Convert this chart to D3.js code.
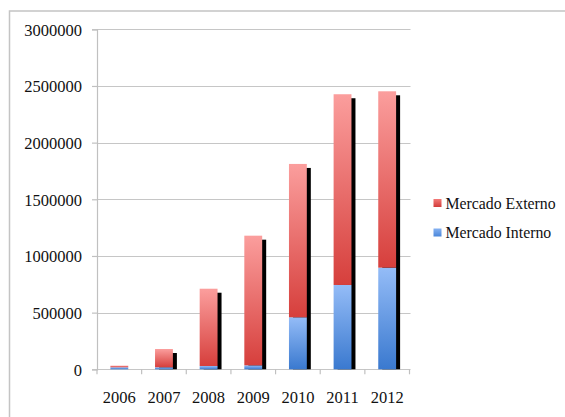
<!DOCTYPE html>
<html>
<head>
<meta charset="utf-8">
<script src="https://cdn.jsdelivr.net/npm/d3@7"></script>
<style>
  html, body { margin: 0; padding: 0; background: #fff; }
  svg { display: block; }
  text { font-family: "Liberation Serif", "Times New Roman", serif; fill: #111; }
</style>
</head>
<body>
<svg id="chart" width="565" height="417"></svg>
<script>
// Annual sales by market
const years = ["2006", "2007", "2008", "2009", "2010", "2011", "2012"];
const mercadoInterno = [18000, 18000, 29000, 35000, 459000, 744000, 897000];
const mercadoExterno = [14000, 161000, 682000, 1144000, 1353000, 1683000, 1556000];
const yTicks = [0, 500000, 1000000, 1500000, 2000000, 2500000, 3000000];
const seriesNames = ["Mercado Interno", "Mercado Externo"];

const svg = d3.select("#chart");
const plot = { left: 97, right: 409.5, top: 29.3, bottom: 369.3 };

// outer frame
svg.append("rect")
  .attr("x", 9.5).attr("y", 11).attr("width", 600).attr("height", 450)
  .attr("fill", "none").attr("stroke", "#c4c4c4").attr("stroke-width", 1.5);

const x = d3.scaleBand().domain(years).range([plot.left, plot.right]).paddingInner(0).paddingOuter(0);
const y = d3.scaleLinear().domain([0, 3000000]).range([plot.bottom, plot.top]);

// gradients
const defs = svg.append("defs");
function grad(id, top, bottom) {
  const g = defs.append("linearGradient").attr("id", id)
    .attr("x1", 0).attr("y1", 0).attr("x2", 0).attr("y2", 1);
  g.append("stop").attr("offset", "0%").attr("stop-color", top);
  g.append("stop").attr("offset", "100%").attr("stop-color", bottom);
}
grad("gRed", "#fb9e9d", "#d63f3c");
grad("gBlue", "#94bcf7", "#3a79cf");
grad("gRedLeg", "#f37a78", "#d23c3a");
grad("gBlueLeg", "#86b2f2", "#4b87da");

// gridlines
svg.append("g").selectAll("line").data(yTicks).join("line")
  .attr("x1", plot.left).attr("x2", plot.right + 1)
  .attr("y1", d => Math.round(y(d)) + 0.5).attr("y2", d => Math.round(y(d)) + 0.5)
  .attr("stroke", "#c6c6c6").attr("stroke-width", 1.2);

// y axis
const yAxis = svg.append("g").attr("transform", `translate(${plot.left},0)`)
  .call(d3.axisLeft(y).tickValues(yTicks).tickFormat(d3.format("d")).tickSize(5).tickPadding(10));
yAxis.select(".domain").attr("stroke", "#c0c0c0").attr("stroke-width", 1.2);
yAxis.selectAll(".tick line").attr("stroke", "#c0c0c0").attr("stroke-width", 1.2);
yAxis.selectAll(".tick text").attr("font-size", 16.5).attr("font-family", "Liberation Serif").attr("fill", "#111").attr("dy", "0.36em");

// x axis ticks at band boundaries
const xAxisG = svg.append("g");
const boundaries = years.map(d => x(d)).concat([plot.right]);
xAxisG.selectAll("line").data(boundaries).join("line")
  .attr("x1", d => d).attr("x2", d => d)
  .attr("y1", plot.bottom).attr("y2", plot.bottom + 5)
  .attr("stroke", "#c0c0c0").attr("stroke-width", 1.2);
xAxisG.selectAll("text").data(years).join("text")
  .attr("x", d => x(d) + x.bandwidth() / 2)
  .attr("y", 402.5)
  .attr("text-anchor", "middle")
  .attr("font-size", 16.5)
  .text(d => d);

// stacked bars
const rows = years.map((yr, i) => ({ year: yr, interno: mercadoInterno[i], externo: mercadoExterno[i] }));
const stack = d3.stack().keys(["interno", "externo"])(rows);
const barW = x.bandwidth() * 0.4;
const barX = d => x(d.data.year) + (x.bandwidth() - barW) / 2;

// drop shadows behind each stacked column
const totals = rows.map(r => r.interno + r.externo);
svg.append("g").selectAll("rect").data(rows).join("rect")
  .attr("x", d => x(d.year) + (x.bandwidth() - barW) / 2 + 4)
  .attr("y", (d, i) => y(totals[i]) + 4)
  .attr("width", barW)
  .attr("height", (d, i) => Math.max(0, plot.bottom - y(totals[i]) - 4))
  .attr("fill", "#000");

const fills = ["url(#gBlue)", "url(#gRed)"];
stack.forEach((layer, k) => {
  svg.append("g").selectAll("rect").data(layer).join("rect")
    .attr("x", barX)
    .attr("y", d => y(d[1]))
    .attr("width", barW)
    .attr("height", d => y(d[0]) - y(d[1]))
    .attr("fill", fills[k]);
});

// legend
const legend = [
  { name: seriesNames[1], fill: "url(#gRedLeg)", y: 199 },
  { name: seriesNames[0], fill: "url(#gBlueLeg)", y: 228.5 }
];
const lg = svg.append("g");
legend.forEach(l => {
  lg.append("rect").attr("x", 433.5).attr("y", l.y).attr("width", 8).attr("height", 8).attr("fill", l.fill);
  lg.append("text").attr("x", 445.5).attr("y", l.y + 9.5).attr("font-size", 15.8).text(l.name);
});
</script>
</body>
</html>
